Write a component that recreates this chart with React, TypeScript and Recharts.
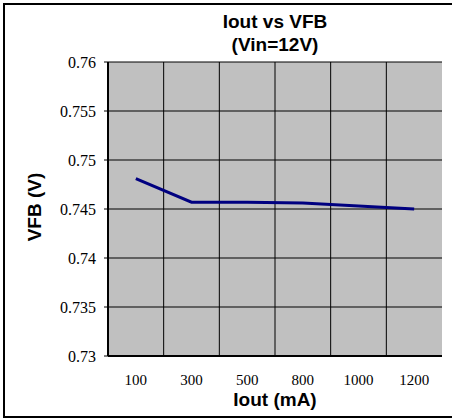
import React from 'react';
import { LineChart, Line, XAxis, YAxis, CartesianGrid } from 'recharts';

const currents = ['100', '300', '500', '800', '1000', '1200'];
const vfb = [0.7481, 0.7457, 0.7457, 0.7456, 0.7453, 0.745];
const yTicks = [0.73, 0.735, 0.74, 0.745, 0.75, 0.755, 0.76];
const yTickLabels = ['0.73', '0.735', '0.74', '0.745', '0.75', '0.755', '0.76'];

const data = currents.map((c, i) => ({ iout: c, vfb: vfb[i] }));

const tickStyle = { fontFamily: '"Liberation Serif", serif', fontSize: 16, fill: '#000' };
const boldSans = { fontFamily: '"Liberation Sans", Arial, sans-serif', fontWeight: 700, fontSize: 19, color: '#000' };

export default function App() {
  return (
    <div style={{ position: 'absolute', left: 0, top: 0, width: 452, height: 420, background: '#fff' }}>
      <div
        style={{
          position: 'absolute', left: 3, top: 3, width: 449, height: 415,
          borderTop: '2px solid #000', borderLeft: '2px solid #000', borderBottom: '2px solid #000',
          boxSizing: 'border-box'
        }}
      />
      <LineChart
        width={452}
        height={420}
        data={data}
        margin={{ top: 62, right: 10, left: 0, bottom: 0 }}
      >
        <CartesianGrid
          fill="#C0C0C0"
          fillOpacity={1}
          stroke="#000"
          strokeOpacity={1}
          verticalCoordinatesGenerator={({ offset }: any) =>
            currents.slice(1).map((_, i) => offset.left + (offset.width * (i + 1)) / currents.length)
          }
        />
        <XAxis
          dataKey="iout"
          type="category"
          scale="band"
          height={64}
          tickLine={false}
          tickSize={0}
          tickMargin={18}
          tick={{ ...tickStyle, fontSize: 15 }}
          axisLine={{ stroke: '#000', strokeWidth: 2 }}
          interval={0}
        />
        <XAxis xAxisId="top" orientation="top" height={0} tick={false} tickLine={false} axisLine={{ stroke: '#808080', strokeWidth: 2 }} />
        <YAxis
          width={108}
          domain={[0.73, 0.76]}
          ticks={yTicks}
          tickFormatter={(v: number) => yTickLabels[yTicks.indexOf(v)] ?? String(v)}
          tickSize={4}
          tickMargin={8}
          tick={tickStyle}
          tickLine={{ stroke: '#000' }}
          axisLine={{ stroke: '#000', strokeWidth: 2 }}
          interval={0}
        />
        <YAxis yAxisId="right" orientation="right" width={0} tick={false} tickLine={false} axisLine={{ stroke: '#808080', strokeWidth: 2 }} />
        <Line
          type="linear"
          dataKey="vfb"
          stroke="#000080"
          strokeWidth={3}
          dot={false}
          isAnimationActive={false}
        />
      </LineChart>
      <div style={{ ...boldSans, position: 'absolute', left: 109, width: 332, top: 10, textAlign: 'center', lineHeight: '23px' }}>
        <div>Iout vs VFB</div>
        <div>(Vin=12V)</div>
      </div>
      <div style={{ ...boldSans, position: 'absolute', left: 109, width: 332, top: 389, textAlign: 'center', lineHeight: '22px' }}>
        Iout (mA)
      </div>
      <div
        style={{
          ...boldSans, position: 'absolute', left: 35, top: 207, width: 120, marginLeft: -60, marginTop: -11,
          lineHeight: '22px', textAlign: 'center', transform: 'rotate(-90deg)'
        }}
      >
        VFB (V)
      </div>
    </div>
  );
}
